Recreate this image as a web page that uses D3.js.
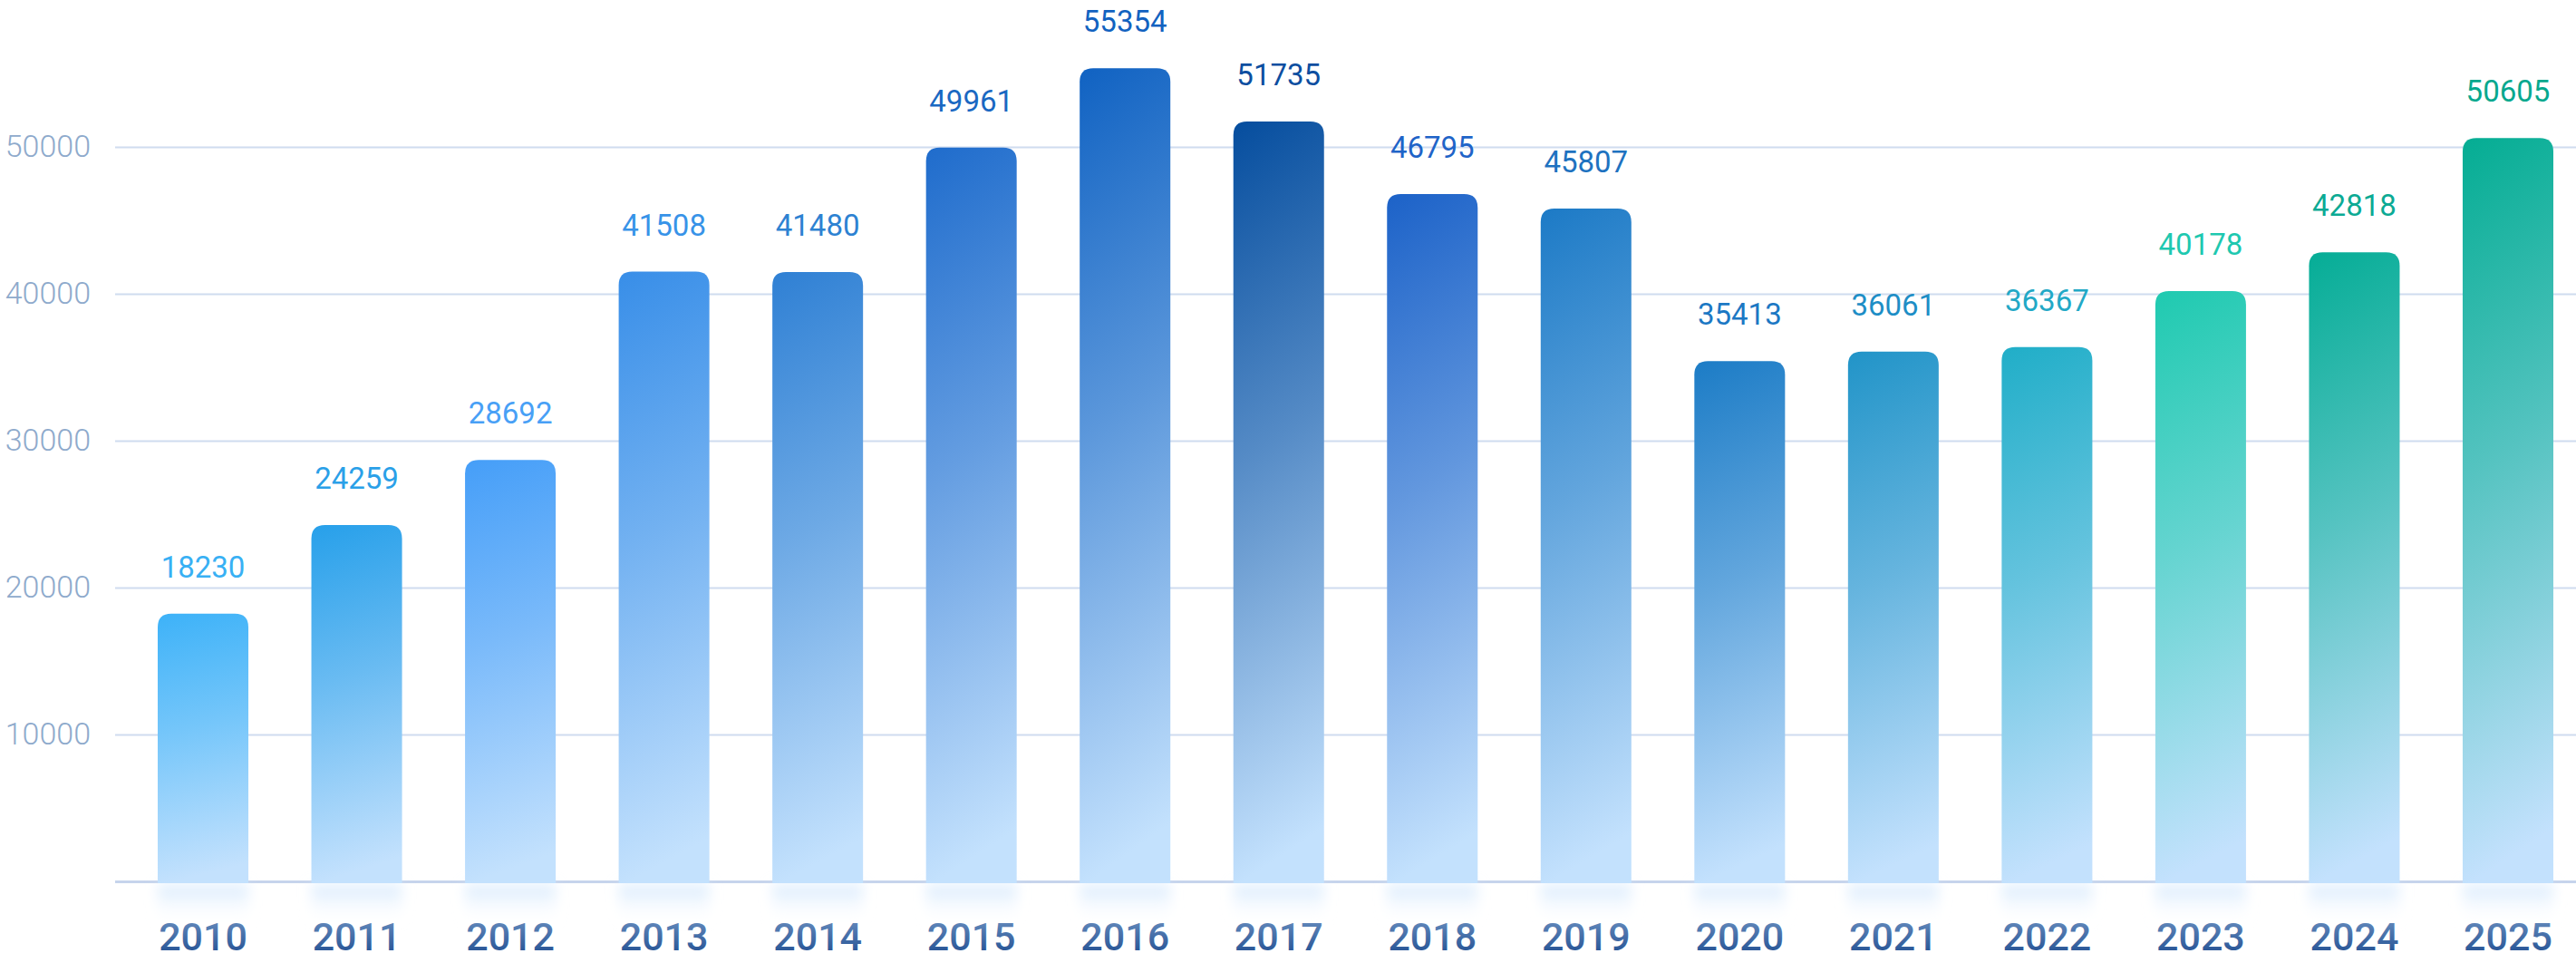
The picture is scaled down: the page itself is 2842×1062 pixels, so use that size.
<!DOCTYPE html>
<html>
<head>
<meta charset="utf-8">
<script src="https://cdn.jsdelivr.net/npm/d3@7"></script>
<style>
  html, body { margin: 0; padding: 0; background: #fff; }
  svg { display: block; }
</style>
</head>
<body>
<svg id="chart" width="2842" height="1062"></svg>
<script>
// Chart data
const years = ['2010', '2011', '2012', '2013', '2014', '2015', '2016', '2017',
  '2018', '2019', '2020', '2021', '2022', '2023', '2024', '2025'];
const values = [18230, 24259, 28692, 41508, 41480, 49961, 55354, 51735,
  46795, 45807, 35413, 36061, 36367, 40178, 42818, 50605];
const topColors = ['#3db2f8', '#27a0ea', '#459ef8', '#388ee8', '#2f80d4', '#1f6ccc',
  '#1062c2', '#054d9e', '#1c62c8', '#1c7ac6', '#1c7cc6', '#2194c8',
  '#20aec8', '#1fcab0', '#05ad96', '#04ad93'];
const labelColors = ['#38b0f4', '#2aa0e8', '#48a0f6', '#3893e8', '#2d82d2', '#1a68c2',
  '#1262c0', '#0c4ea0', '#1f64c8', '#1e72c0', '#1c78c4', '#1e8ec6',
  '#22a8c6', '#1ec8b0', '#0caa94', '#06a88e'];
const yTicks = [0, 10000, 20000, 30000, 40000, 50000];

const width = 2842;
const height = 1062;
const left = 127;
const bottomColor = '#c3e1fd';

const svg = d3.select('#chart');
const defs = svg.append('defs');

// Scales
const x = d3.scaleBand()
  .domain(years)
  .range([174, 2817])
  .paddingInner(0.41)
  .paddingOuter(0);

const y = d3.scaleLinear()
  .domain([0, 50000])
  .range([972, 162]);

// Gradients for each bar
years.forEach((yr, i) => {
  const g = defs.append('linearGradient')
    .attr('id', 'bar-' + yr)
    .attr('x1', 0).attr('y1', 0).attr('x2', 0.08).attr('y2', 1);
  g.append('stop').attr('offset', '0%').attr('stop-color', topColors[i]);
  g.append('stop').attr('offset', '45%').attr('stop-color', d3.interpolateRgb(topColors[i], bottomColor)(0.42));
  g.append('stop').attr('offset', '100%').attr('stop-color', bottomColor);
});

const yearGrad = defs.append('linearGradient')
  .attr('id', 'year-grad')
  .attr('x1', 0).attr('y1', 0).attr('x2', 0).attr('y2', 1);
yearGrad.append('stop').attr('offset', '0%').attr('stop-color', '#6d92c2');
yearGrad.append('stop').attr('offset', '100%').attr('stop-color', '#1c4a8e');

const reflGrad = defs.append('linearGradient')
  .attr('id', 'refl-grad')
  .attr('x1', 0).attr('y1', 0).attr('x2', 0).attr('y2', 1);
reflGrad.append('stop').attr('offset', '0%').attr('stop-color', '#d2e7fc').attr('stop-opacity', 0.9);
reflGrad.append('stop').attr('offset', '100%').attr('stop-color', '#ffffff').attr('stop-opacity', 0);

defs.append('filter')
  .attr('id', 'blur')
  .attr('x', '-30%').attr('y', '-50%').attr('width', '160%').attr('height', '200%')
  .append('feGaussianBlur')
  .attr('stdDeviation', 7);

// Y axis with grid lines
const yAxis = svg.append('g')
  .attr('transform', `translate(${left},0)`)
  .call(d3.axisLeft(y)
    .tickValues(yTicks)
    .tickSize(-(width - left))
    .tickPadding(27)
    .tickFormat(d => d === 0 ? '' : d));

yAxis.select('.domain').remove();
yAxis.selectAll('.tick line')
  .attr('stroke', d => d === 0 ? '#c6d4ec' : '#cfdcef')
  .attr('stroke-width', d => d === 0 ? 3 : 2);
yAxis.selectAll('.tick text')
  .attr('fill', '#8eaacc')
  .style('font-family', 'Roboto, sans-serif')
  .style('font-weight', 300)
  .style('font-size', '34px');

// Reflections below the baseline
svg.append('g')
  .selectAll('rect')
  .data(years)
  .join('rect')
  .attr('x', d => x(d))
  .attr('y', y(0) + 4)
  .attr('width', x.bandwidth())
  .attr('height', 42)
  .attr('fill', 'url(#refl-grad)')
  .attr('filter', 'url(#blur)');

// Bars with rounded tops
const r = 15;
function barPath(d, i) {
  const x0 = x(d);
  const x1 = x0 + x.bandwidth();
  const top = y(values[i]);
  const base = y(0) + 2;
  return `M${x0},${base}V${top + r}Q${x0},${top} ${x0 + r},${top}H${x1 - r}Q${x1},${top} ${x1},${top + r}V${base}Z`;
}

svg.append('g')
  .selectAll('path')
  .data(years)
  .join('path')
  .attr('d', barPath)
  .attr('fill', d => `url(#bar-${d})`);

// Value labels
svg.append('g')
  .selectAll('text')
  .data(years)
  .join('text')
  .attr('x', d => x(d) + x.bandwidth() / 2)
  .attr('y', (d, i) => y(values[i]) - 40)
  .attr('text-anchor', 'middle')
  .attr('fill', (d, i) => labelColors[i])
  .style('font-family', 'Roboto, sans-serif')
  .style('font-weight', 400)
  .style('font-size', '33px')
  .text((d, i) => values[i]);

// X axis labels
const xAxis = svg.append('g')
  .attr('transform', `translate(0,${y(0)})`)
  .call(d3.axisBottom(x).tickSize(0));

xAxis.select('.domain').remove();
xAxis.selectAll('.tick text')
  .attr('y', 76)
  .attr('dy', 0)
  .attr('fill', 'url(#year-grad)')
  .style('font-family', 'Roboto, sans-serif')
  .style('font-weight', 500)
  .style('font-size', '43px');
</script>
</body>
</html>
